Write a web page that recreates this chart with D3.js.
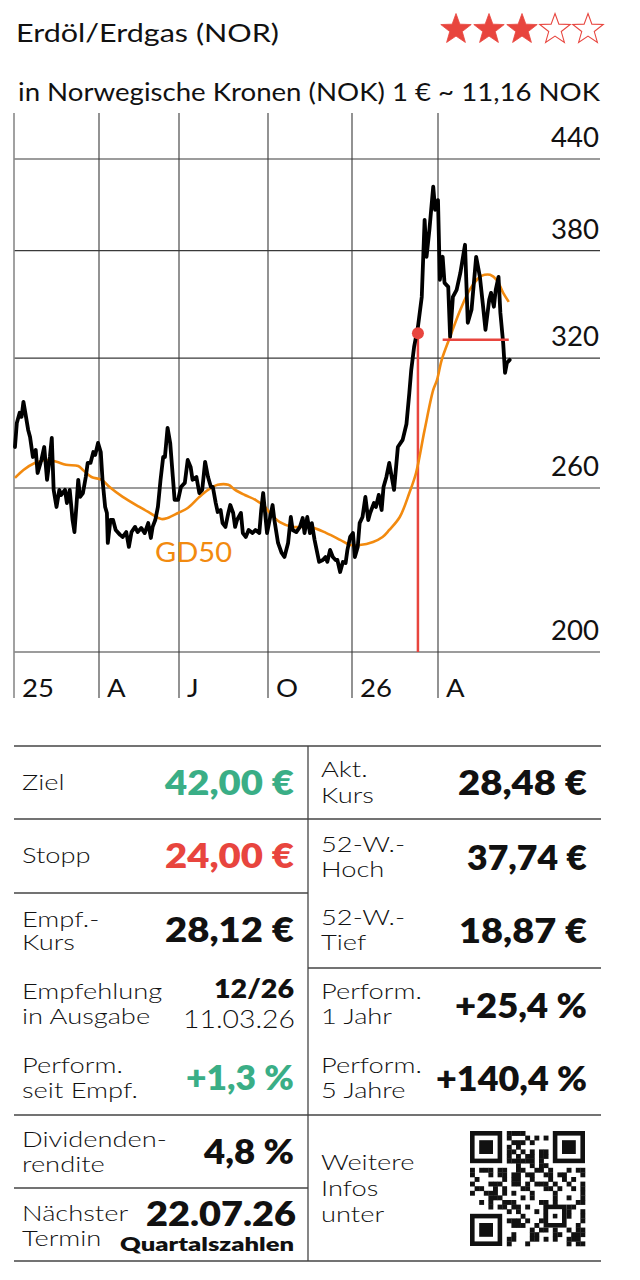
<!DOCTYPE html>
<html><head><meta charset="utf-8">
<script src="https://cdn.jsdelivr.net/npm/d3@7/dist/d3.min.js"></script>
<style>body{margin:0;background:#fff}</style>
</head><body>
<svg id="c" width="640" height="1280"></svg>
<script>
// ---------- DATA ----------
const titleText = "Erdöl/Erdgas (NOR)";
const subtitleText = "in Norwegische Kronen (NOK) 1 € ~ 11,16 NOK";
const rating = 3, maxRating = 5;

const priceDates = ["2025-01-02","2025-01-04","2025-01-07","2025-01-09","2025-01-11","2025-01-13","2025-01-16","2025-01-18","2025-01-21","2025-01-24","2025-01-26","2025-01-30","2025-02-02","2025-02-05","2025-02-08","2025-02-10","2025-02-12","2025-02-15","2025-02-18","2025-02-20","2025-02-24","2025-02-26","2025-03-01","2025-03-04","2025-03-06","2025-03-08","2025-03-10","2025-03-12","2025-03-15","2025-03-18","2025-03-20","2025-03-23","2025-03-26","2025-03-28","2025-03-31",
"2025-04-03","2025-04-05","2025-04-08","2025-04-10","2025-04-11","2025-04-14","2025-04-17","2025-04-20","2025-04-25","2025-04-28","2025-05-02","2025-05-05","2025-05-08","2025-05-12","2025-05-15","2025-05-19","2025-05-23","2025-05-27","2025-05-30","2025-06-01","2025-06-04","2025-06-07","2025-06-10","2025-06-13","2025-06-15","2025-06-18","2025-06-21","2025-06-24","2025-06-26","2025-06-30",
"2025-07-03","2025-07-07","2025-07-10","2025-07-13","2025-07-15","2025-07-19","2025-07-22","2025-07-25","2025-07-28","2025-07-31","2025-08-03","2025-08-05","2025-08-08","2025-08-10","2025-08-13","2025-08-15","2025-08-18","2025-08-21","2025-08-23","2025-08-26","2025-08-28","2025-08-30","2025-09-03","2025-09-05","2025-09-08","2025-09-11","2025-09-15","2025-09-18","2025-09-22","2025-09-24","2025-09-26","2025-09-30",
"2025-10-06","2025-10-08","2025-10-12","2025-10-16","2025-10-19","2025-10-23","2025-10-26","2025-10-28","2025-11-01","2025-11-05","2025-11-08","2025-11-10","2025-11-13","2025-11-16","2025-11-18","2025-11-21","2025-11-24","2025-11-26","2025-11-30","2025-12-03","2025-12-05","2025-12-08","2025-12-11","2025-12-14","2025-12-16","2025-12-19","2025-12-22","2025-12-25","2025-12-27","2025-12-30",
"2026-01-02","2026-01-04","2026-01-07","2026-01-09","2026-01-12","2026-01-15","2026-01-18","2026-01-20","2026-01-24","2026-01-26","2026-01-29","2026-02-01","2026-02-03","2026-02-06","2026-02-09","2026-02-14","2026-02-18","2026-02-23","2026-02-27","2026-03-02","2026-03-04","2026-03-07","2026-03-11","2026-03-15","2026-03-18","2026-03-20","2026-03-23","2026-03-27","2026-03-29","2026-04-01",
"2026-04-03","2026-04-06","2026-04-08","2026-04-12","2026-04-14","2026-04-17","2026-04-21","2026-04-25","2026-04-30","2026-05-03","2026-05-07","2026-05-12","2026-05-16","2026-05-19","2026-05-22","2026-05-26","2026-05-28","2026-05-31","2026-06-02","2026-06-05","2026-06-07","2026-06-10","2026-06-12","2026-06-14","2026-06-17"];
const priceValues = [277.6,288.5,293.2,291.3,298.4,293.2,285.3,282.1,273.2,276.3,266.3,271.9,277.6,263.4,273.2,281.7,259.2,252.2,259.2,257.1,259.2,253.8,259.2,247.0,242.3,252.2,263.4,256.3,257.9,264.6,270.6,270.6,275.4,274.1,279.4,
275.4,263.4,252.2,249.8,238.1,247.0,247.0,243.1,241.2,240.4,242.3,236.6,242.3,244.3,242.3,243.9,241.9,245.8,240.0,244.3,247.0,252.2,263.4,273.2,273.2,286.2,279.4,264.6,255.1,255.1,
260.4,262.1,271.9,268.9,263.4,264.6,257.9,259.2,271.1,264.6,260.4,260.4,253.8,250.2,251.0,245.8,244.3,249.8,253.0,249.8,244.3,247.0,249.8,241.9,240.4,243.1,241.9,243.1,241.9,251.0,257.9,241.9,
253.0,247.0,238.1,234.3,232.8,238.1,248.2,243.1,242.3,244.3,247.8,241.9,248.2,241.9,245.8,239.3,234.3,231.0,231.7,232.8,231.0,235.5,232.8,231.7,231.7,227.3,231.0,230.6,235.5,240.4,
241.9,232.8,236.6,245.8,248.2,256.3,247.0,249.8,253.8,252.2,257.1,251.0,260.4,264.6,270.6,259.2,277.6,280.8,288.0,302.7,314.0,325.8,336.4,352.9,399.2,376.3,392.9,420.9,405.7,412.0,
362.7,376.3,360.9,358.6,331.1,352.9,356.9,366.7,383.6,338.6,345.7,376.3,364.4,349.6,334.8,351.3,355.2,347.4,356.9,364.4,344.0,327.9,312.5,317.6,319.1];

const gdDates = ["2025-01-02","2025-01-11","2025-01-23","2025-02-04","2025-02-15","2025-02-25","2025-03-10","2025-03-15","2025-03-24","2025-04-04","2025-04-13","2025-04-28","2025-05-17","2025-05-27","2025-06-11","2025-06-18","2025-06-30","2025-07-10","2025-07-21","2025-07-31","2025-08-10","2025-08-21","2025-08-28","2025-09-07","2025-09-18","2025-09-28","2025-10-03","2025-10-14","2025-10-28","2025-11-16","2025-12-04","2025-12-19","2025-12-30","2026-01-09","2026-01-23","2026-02-02","2026-02-09","2026-02-20","2026-03-02","2026-03-09","2026-03-18","2026-03-27","2026-03-31","2026-04-05","2026-04-14","2026-04-25","2026-05-05","2026-05-16","2026-05-21","2026-05-27","2026-06-03","2026-06-10","2026-06-16"];
const gdValues = [264.2,267.6,270.6,271.9,271.1,269.8,269.3,267.6,264.6,263.4,260.4,256.3,252.2,250.2,247.4,247.8,249.8,251.8,255.9,259.2,261.3,261.3,259.2,257.1,255.1,252.2,249.8,246.2,244.3,244.3,241.9,239.3,237.3,237.3,238.5,240.4,243.1,248.2,257.9,266.3,285.3,304.1,309.1,319.1,331.1,345.7,356.9,364.4,365.6,365.6,362.7,355.2,350.1];
const gdLabel = "GD50";

const yTicks = [200, 260, 320, 380, 440];
const xTickDates = ["2025-01-01","2025-04-01","2025-07-01","2025-10-01","2026-01-01","2026-04-01"];
const xTickLabels = ["25","A","J","O","26","A"];

const entryDate = "2026-03-11", entryValue = 333;
const supportStart = "2026-04-06", supportEnd = "2026-06-16", supportValue = 329.5;

const leftLabels = [["Ziel"],["Stopp"],["Empf.-","Kurs"],["Empfehlung","in Ausgabe"],["Perform.","seit Empf."],["Dividenden-","rendite"],["Nächster","Termin"]];
const leftValues = ["42,00 €","24,00 €","28,12 €","12/26","+1,3 %","4,8 %","22.07.26"];
const leftSubValues = ["","","","11.03.26","","","Quartalszahlen"];
const leftTones = ["pos","neg","","","pos","",""];
const rightLabels = [["Akt.","Kurs"],["52-W.-","Hoch"],["52-W.-","Tief"],["Perform.","1 Jahr"],["Perform.","5 Jahre"]];
const rightValues = ["28,48 €","37,74 €","18,87 €","+25,4 %","+140,4 %"];
const infoLabel = ["Weitere","Infos","unter"];

// ---------- DRAW ----------
const svg = d3.select("#c");
const FONT = "Lato, 'Open Sans', sans-serif";
const RED = "#e8453e", GREEN = "#3aae86", ORANGE = "#f28a0f", GRID = "#3a3a3a", INK = "#111";
const parse = d3.timeParse("%Y-%m-%d");

// stretch a text horizontally to a target width (reference font is wider)
function stretch(sel, target){
  sel.attr("textLength", target).attr("lengthAdjust","spacingAndGlyphs");
  return sel;
}
function stretchBy(sel, k){ return stretch(sel, sel.node().getComputedTextLength()*k); }
function rightText(g, right, yy, txt, size, weight, fill, width){
  const t = g.append("text").attr("y",yy).attr("font-family",FONT).attr("font-size",size)
    .attr("font-weight",weight).attr("fill",fill).text(txt);
  t.attr("x", right - width);
  stretch(t, width);
  return t;
}

svg.append("rect").attr("width",640).attr("height",1280).attr("fill","#fff");

stretch(svg.append("text").attr("x",16).attr("y",42).attr("font-family",FONT).attr("font-size",25)
  .attr("font-weight",400).attr("fill",INK).text(titleText), 263);

// stars
function starPath(cx, cy, R, r){
  const pts = d3.range(10).map(i=>{
    const a = -Math.PI/2 + i*Math.PI/5, rad = i%2===0?R:r;
    return [cx+rad*Math.cos(a), cy+rad*Math.sin(a)];
  });
  return "M"+pts.map(p=>p.join(",")).join("L")+"Z";
}
const starX = d3.scaleLinear().domain([0, maxRating-1]).range([456, 588]);
svg.selectAll("path.star").data(d3.range(maxRating)).join("path")
  .attr("d", i=>starPath(starX(i), 29.5, 16, 6.6))
  .attr("fill", i=> i<rating ? RED : "none")
  .attr("stroke", RED).attr("stroke-width", i=> i<rating ? 0.8 : 1.1)
  .attr("stroke-linejoin","miter");

stretch(svg.append("text").attr("x",18).attr("y",101).attr("font-family",FONT).attr("font-size",25)
  .attr("font-weight",400).attr("fill",INK).text(subtitleText), 582);

// scales
const x = d3.scaleTime()
  .domain([parse("2025-01-01"),parse("2025-04-01"),parse("2025-07-01"),parse("2025-10-01"),parse("2026-01-01"),parse("2026-04-01"),parse("2026-09-22")])
  .range([14,99,179,268,352,438,600]);
const y = d3.scaleLog().domain([200,440]).range([652,159]);

const plotL = 14, plotR = 600, plotTop = 113, bottomTick = 698;

// horizontal grid + y labels
const gy = svg.append("g");
gy.selectAll("line").data(yTicks).join("line")
  .attr("x1",plotL).attr("x2",plotR).attr("y1",d=>y(d)).attr("y2",d=>y(d))
  .attr("stroke",GRID).attr("stroke-width",1.1);
yTicks.forEach(t=>{
  rightText(gy, 599, y(t)-12, String(t), 26, 400, INK, 48);
});

// vertical grid + x labels
const gx = svg.append("g");
gx.selectAll("line").data(xTickDates).join("line")
  .attr("x1",d=>x(parse(d))).attr("x2",d=>x(parse(d)))
  .attr("y1",plotTop).attr("y2",bottomTick)
  .attr("stroke",(d,i)=> i===0 ? "#8a8a8a" : GRID).attr("stroke-width",(d,i)=> i===0?1.6:1.1);
gx.selectAll("text").data(xTickDates).join("text")
  .attr("x",d=>x(parse(d))+8).attr("y",697)
  .attr("font-family",FONT).attr("font-size",25).attr("font-weight",400).attr("fill",INK)
  .text((d,i)=>xTickLabels[i])
  .each(function(){ stretchBy(d3.select(this), 1.1); });

// red entry line
svg.append("line").attr("x1",x(parse(entryDate))).attr("x2",x(parse(entryDate)))
  .attr("y1",y(entryValue)).attr("y2",y(200)).attr("stroke",RED).attr("stroke-width",2.5);

// GD50
const gd = gdDates.map((d,i)=>({d:parse(d), v:gdValues[i]}));
svg.append("path").datum(gd)
  .attr("d", d3.line().x(p=>x(p.d)).y(p=>y(p.v)).curve(d3.curveCatmullRom))
  .attr("fill","none").attr("stroke",ORANGE).attr("stroke-width",2.6);
stretch(svg.append("text").attr("x",155).attr("y",562).attr("font-family",FONT).attr("font-size",26)
  .attr("font-weight",400).attr("fill",ORANGE).text(gdLabel), 77);

// price
const pr = priceDates.map((d,i)=>({d:parse(d), v:priceValues[i]}));
svg.append("path").datum(pr)
  .attr("d", d3.line().x(p=>x(p.d)).y(p=>y(p.v)))
  .attr("fill","none").attr("stroke","#000").attr("stroke-width",3.8)
  .attr("stroke-linejoin","round").attr("stroke-linecap","round");

// support line
svg.append("line").attr("x1",x(parse(supportStart))).attr("x2",x(parse(supportEnd)))
  .attr("y1",y(supportValue)).attr("y2",y(supportValue)).attr("stroke",RED).attr("stroke-width",2.5);
svg.append("circle").attr("cx",x(parse(entryDate))).attr("cy",y(entryValue)).attr("r",6).attr("fill",RED);

// ---------- TABLE ----------
const T = svg.append("g");
const lineC = "#444";
function hline(y0,x1,x2){ T.append("line").attr("x1",x1).attr("x2",x2).attr("y1",y0).attr("y2",y0).attr("stroke",lineC).attr("stroke-width",1.3); }
hline(746,14,601); hline(819,14,601); hline(893,14,308); hline(968,308,601);
hline(1115,14,601); hline(1188,14,308); hline(1261,14,601);
T.append("line").attr("x1",308).attr("x2",308).attr("y1",746).attr("y2",1261).attr("stroke",lineC).attr("stroke-width",1.3);

const toneColor = t => t==="pos" ? GREEN : t==="neg" ? RED : INK;
const LABEL_K = 1.3;
function label(xx, yy, t){
  stretchBy(T.append("text").attr("x",xx).attr("y",yy).attr("font-family",FONT)
    .attr("font-size",21).attr("font-weight",300).attr("fill","#111").text(t), LABEL_K);
}
const leftLabelY = [[790],[863],[927,950],[999,1024],[1073,1098],[1147,1172],[1221,1246]];
const leftValueY = [795,868,942,998,1090,1164,1226];
const leftValueW = [129,129,129,80,108,90,150];
leftLabels.forEach((lines,i)=>{
  lines.forEach((t,j)=> label(22, leftLabelY[i][j], t));
  const size = i===3 ? 26 : (i===6 ? 33 : 34);
  rightText(T, i===6?296:294, leftValueY[i], leftValues[i], size, 800, toneColor(leftTones[i]), leftValueW[i]);
  if (leftSubValues[i]) {
    if (i===3) rightText(T, 295, 1028, leftSubValues[i], 25, 300, INK, 112);
    else rightText(T, 294, 1251, leftSubValues[i], 18, 800, INK, 174);
  }
});
const rightLabelY = [[777,803],[852,877],[925,950],[999,1024],[1073,1098]];
const rightValueY = [795,870,943,1018,1091];
const rightValueW = [129,120,128,132,151];
rightLabels.forEach((lines,i)=>{
  lines.forEach((t,j)=> label(321, rightLabelY[i][j], t));
  rightText(T, 587, rightValueY[i], rightValues[i], 34, 800, INK, rightValueW[i]);
});
infoLabel.forEach((t,j)=> label(321, 1170+j*26, t));

// QR-like code (decorative, deterministic pattern)
const N = 25, qx = 470, qy = 1131, qs = 115/N;
const qr = T.append("g");
function finder(cx,cy){
  qr.append("rect").attr("x",qx+cx*qs).attr("y",qy+cy*qs).attr("width",7*qs).attr("height",7*qs).attr("fill","#111");
  qr.append("rect").attr("x",qx+(cx+1)*qs).attr("y",qy+(cy+1)*qs).attr("width",5*qs).attr("height",5*qs).attr("fill","#fff");
  qr.append("rect").attr("x",qx+(cx+2)*qs).attr("y",qy+(cy+2)*qs).attr("width",3*qs).attr("height",3*qs).attr("fill","#111");
}
const cells = [];
for (let r=0;r<N;r++) for (let c=0;c<N;c++){
  const inF = (r<8&&c<8)||(r<8&&c>=N-8)||(r>=N-8&&c<8);
  if (inF) continue;
  const h = ((r*31 + c*17 + r*c*7) ^ (r*c + 5)) % 7;
  if (h < 3) cells.push([r,c]);
}
qr.selectAll("rect.m").data(cells).join("rect").attr("class","m")
  .attr("x",d=>qx+d[1]*qs).attr("y",d=>qy+d[0]*qs).attr("width",qs+0.3).attr("height",qs+0.3).attr("fill","#111");
finder(0,0); finder(N-7,0); finder(0,N-7);
qr.append("rect").attr("x",qx+16*qs).attr("y",qy+16*qs).attr("width",5*qs).attr("height",5*qs).attr("fill","#111");
qr.append("rect").attr("x",qx+17*qs).attr("y",qy+17*qs).attr("width",3*qs).attr("height",3*qs).attr("fill","#fff");
qr.append("rect").attr("x",qx+18*qs).attr("y",qy+18*qs).attr("width",qs).attr("height",qs).attr("fill","#111");
</script>
</body></html>
